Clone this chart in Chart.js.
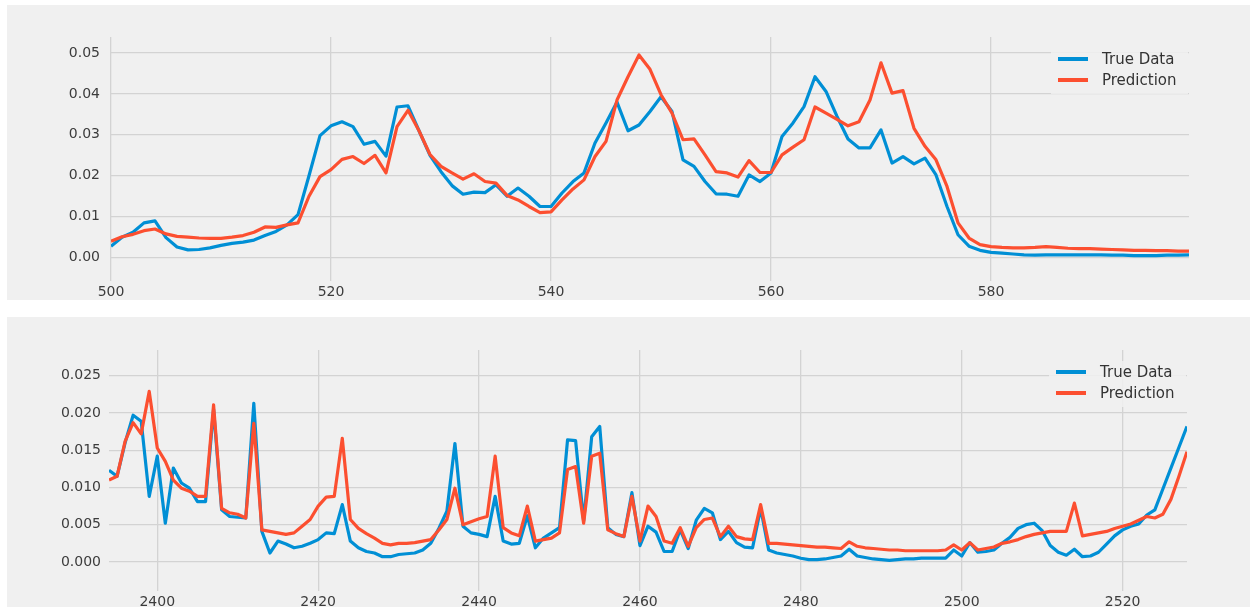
<!DOCTYPE html>
<html>
<head>
<meta charset="utf-8">
<script src="https://cdn.jsdelivr.net/npm/chart.js@4.4.2/dist/chart.umd.min.js"></script>
<style>
  body { margin: 0; background: #fff; width: 1250px; height: 607px; overflow: hidden; position: relative; }
  .panel { position: absolute; left: 7px; background: #f0f0f0; }
  canvas { display: block; }
</style>
</head>
<body>
<div class="panel" style="top:5px;width:1243px;height:295px"><canvas id="topChart" width="1243" height="295"></canvas></div>
<div class="panel" style="top:317px;width:1243px;height:290px"><canvas id="bottomChart" width="1243" height="290"></canvas></div>
<script>
const SERIES_NAMES = ['True Data', 'Prediction'];

// upper panel: steps 500..598
const topStart = 500;
const topTrue = [
  0.0028, 0.0050, 0.0062, 0.0085, 0.0090, 0.0049, 0.0026, 0.0019, 0.0020, 0.0024,
  0.0030, 0.0035, 0.0038, 0.0043, 0.0054, 0.0064, 0.0080, 0.0105, 0.0200, 0.0298,
  0.0322, 0.0332, 0.0320, 0.0277, 0.0284, 0.0248, 0.0368, 0.0371, 0.0310, 0.0250,
  0.0210, 0.0176, 0.0155, 0.0160, 0.0159, 0.0178, 0.0150, 0.0170, 0.0150, 0.0125,
  0.0125, 0.0158, 0.0186, 0.0207, 0.0280, 0.0329, 0.0380, 0.0310, 0.0324, 0.0357,
  0.0393, 0.0357, 0.0239, 0.0223, 0.0186, 0.0156, 0.0155, 0.0150, 0.0202, 0.0186,
  0.0207, 0.0296, 0.0329, 0.0369, 0.0442, 0.0406, 0.0345, 0.0290, 0.0268, 0.0268,
  0.0312, 0.0231, 0.0247, 0.0229, 0.0243, 0.0202, 0.0125, 0.0056, 0.0028, 0.0018,
  0.0013, 0.0011, 0.0009, 0.0007, 0.0006, 0.0007, 0.0007, 0.0007, 0.0007, 0.0007,
  0.0007, 0.0006, 0.0006, 0.0005, 0.0005, 0.0005, 0.0006, 0.0006, 0.0007
];
const topPred = [
  0.0040, 0.0051, 0.0057, 0.0066, 0.0070, 0.0058, 0.0052, 0.0050, 0.0048, 0.0047,
  0.0047, 0.0050, 0.0054, 0.0062, 0.0075, 0.0074, 0.0080, 0.0085, 0.0150, 0.0198,
  0.0215, 0.0240, 0.0247, 0.0230, 0.0250, 0.0207, 0.0320, 0.0360, 0.0310, 0.0252,
  0.0223, 0.0207, 0.0192, 0.0205, 0.0186, 0.0182, 0.0152, 0.0141, 0.0125, 0.0110,
  0.0112, 0.0141, 0.0168, 0.0190, 0.0247, 0.0284, 0.0385, 0.0442, 0.0495, 0.0460,
  0.0398, 0.0353, 0.0288, 0.0290, 0.0251, 0.0210, 0.0207, 0.0197, 0.0237, 0.0208,
  0.0208, 0.0251, 0.0270, 0.0288, 0.0368, 0.0353, 0.0338, 0.0322, 0.0332, 0.0385,
  0.0476, 0.0402, 0.0408, 0.0316, 0.0272, 0.0239, 0.0174, 0.0085, 0.0048, 0.0032,
  0.0027, 0.0025, 0.0024, 0.0024, 0.0025, 0.0027, 0.0025, 0.0023, 0.0022, 0.0022,
  0.0021, 0.0020, 0.0019, 0.0018, 0.0018, 0.0017, 0.0017, 0.0016, 0.0016
];
const topXTicks = [500, 520, 540, 560, 580];
const topYTicks = [0, 0.01, 0.02, 0.03, 0.04, 0.05];

// lower panel: steps 2394..2528
const bottomStart = 2394;
const bottomTrue = [
  0.0123, 0.0115, 0.0160, 0.0197, 0.0189, 0.0088, 0.0142, 0.0052, 0.0126, 0.0106,
  0.0099, 0.0081, 0.0081, 0.0205, 0.0070, 0.0061, 0.0060, 0.0059, 0.0213, 0.0041,
  0.0012, 0.0028, 0.0024, 0.0019, 0.0021, 0.0025, 0.0030, 0.0039, 0.0038, 0.0077,
  0.0028, 0.0019, 0.0014, 0.0012, 0.0007, 0.0007, 0.0010, 0.0011, 0.0012, 0.0016,
  0.0025, 0.0045, 0.0068, 0.0159, 0.0048, 0.0039, 0.0037, 0.0034, 0.0088, 0.0028,
  0.0024, 0.0025, 0.0062, 0.0019, 0.0032, 0.0039, 0.0046, 0.0164, 0.0163, 0.0055,
  0.0168, 0.0182, 0.0046, 0.0037, 0.0034, 0.0093, 0.0022, 0.0048, 0.0040, 0.0014,
  0.0014, 0.0043, 0.0018, 0.0056, 0.0072, 0.0066, 0.0030, 0.0041, 0.0026, 0.0020,
  0.0019, 0.0072, 0.0016, 0.0012, 0.0010, 0.0008, 0.0005, 0.0003, 0.0003, 0.0004,
  0.0006, 0.0008, 0.0017, 0.0008, 0.0006, 0.0004, 0.0003, 0.0002, 0.0003, 0.0004,
  0.0004, 0.0005, 0.0005, 0.0005, 0.0005, 0.0016, 0.0008, 0.0026, 0.0013, 0.0014,
  0.0016, 0.0025, 0.0033, 0.0045, 0.0050, 0.0052, 0.0042, 0.0022, 0.0013, 0.0009,
  0.0017, 0.0007, 0.0008, 0.0013, 0.0024, 0.0035, 0.0043, 0.0048, 0.0051, 0.0063,
  0.0070, 0.0098, 0.0126, 0.0154, 0.0182
];
const bottomPred = [
  0.0110, 0.0115, 0.0162, 0.0187, 0.0172, 0.0229, 0.0153, 0.0135, 0.0110, 0.0099,
  0.0095, 0.0088, 0.0088, 0.0211, 0.0072, 0.0066, 0.0064, 0.0059, 0.0186, 0.0043,
  0.0041, 0.0039, 0.0037, 0.0039, 0.0048, 0.0057, 0.0075, 0.0087, 0.0088, 0.0166,
  0.0057, 0.0045, 0.0038, 0.0032, 0.0025, 0.0023, 0.0025, 0.0025, 0.0026, 0.0028,
  0.0030, 0.0043, 0.0057, 0.0099, 0.0050, 0.0054, 0.0058, 0.0061, 0.0142, 0.0046,
  0.0039, 0.0035, 0.0075, 0.0028, 0.0030, 0.0032, 0.0039, 0.0124, 0.0128, 0.0052,
  0.0142, 0.0146, 0.0043, 0.0038, 0.0034, 0.0088, 0.0028, 0.0075, 0.0061, 0.0028,
  0.0025, 0.0046, 0.0021, 0.0046, 0.0057, 0.0059, 0.0034, 0.0048, 0.0034, 0.0031,
  0.0030, 0.0077, 0.0025, 0.0025, 0.0024, 0.0023, 0.0022, 0.0021, 0.0020, 0.0020,
  0.0019, 0.0018, 0.0027, 0.0021, 0.0019, 0.0018, 0.0017, 0.0016, 0.0016, 0.0015,
  0.0015, 0.0015, 0.0015, 0.0015, 0.0016, 0.0023, 0.0016, 0.0026, 0.0016, 0.0018,
  0.0020, 0.0025, 0.0027, 0.0030, 0.0034, 0.0037, 0.0039, 0.0041, 0.0041, 0.0041,
  0.0079, 0.0035, 0.0037, 0.0039, 0.0041, 0.0045, 0.0048, 0.0051, 0.0056, 0.0061,
  0.0059, 0.0064, 0.0084, 0.0115, 0.0148
];
const bottomXTicks = [2400, 2420, 2440, 2460, 2480, 2500, 2520];
const bottomYTicks = [0, 0.005, 0.01, 0.015, 0.02, 0.025];

const BLUE = '#008fd5';
const RED = '#fc4f30';
const GRID = '#d3d3d3';
const FONT = '"DejaVu Sans", "Liberation Sans", sans-serif';

// legend drawn inside the plot area, top right, like matplotlib's loc='best'
const cornerLegend = {
  id: 'cornerLegend',
  afterDatasetsDraw(chart) {
    const { ctx, chartArea: a } = chart;
    ctx.save();
    ctx.fillStyle = 'rgba(240,240,240,0.85)';
    ctx.fillRect(a.right - 138, a.top + 11, 137, 46);
    ctx.font = '15px ' + FONT;
    ctx.textBaseline = 'middle';
    chart.data.datasets.forEach((ds, i) => {
      const y = a.top + 22 + i * 21;
      ctx.strokeStyle = ds.borderColor;
      ctx.lineWidth = 4;
      ctx.beginPath();
      ctx.moveTo(a.right - 131, y);
      ctx.lineTo(a.right - 101, y);
      ctx.stroke();
      ctx.fillStyle = '#333';
      ctx.fillText(ds.label, a.right - 87, y + 1);
    });
    ctx.restore();
  }
};

function points(start, values) {
  return values.map((v, i) => ({ x: start + i, y: v }));
}

function makeChart(id, cfg) {
  const lastX = cfg.start + cfg.trueVals.length - 1;
  return new Chart(document.getElementById(id), {
    type: 'line',
    data: {
      datasets: [
        { label: SERIES_NAMES[0], data: points(cfg.start, cfg.trueVals), borderColor: BLUE, order: 2 },
        { label: SERIES_NAMES[1], data: points(cfg.start, cfg.predVals), borderColor: RED, order: 1 }
      ]
    },
    options: {
      responsive: false,
      animation: false,
      devicePixelRatio: 1,
      layout: { padding: { left: 0, top: cfg.top, right: cfg.right, bottom: 0 } },
      elements: {
        point: { radius: 0 },
        line: { borderWidth: 3.2, tension: 0, borderJoinStyle: 'round', fill: false }
      },
      plugins: { legend: { display: false }, tooltip: { enabled: false } },
      scales: {
        x: {
          type: 'linear',
          min: cfg.start,
          max: lastX,
          border: { display: false },
          grid: { color: GRID, lineWidth: 1.3, drawTicks: false },
          ticks: {
            color: '#3c3c3c', font: { family: FONT, size: 14 }, padding: 3, maxRotation: 0,
            callback: v => String(v)
          },
          afterBuildTicks: s => { s.ticks = cfg.xTicks.map(v => ({ value: v })); },
          afterFit: s => { s.height = cfg.xHeight; }
        },
        y: {
          min: cfg.yMin,
          max: cfg.yMax,
          border: { display: false },
          grid: { color: GRID, lineWidth: 1.3, drawTicks: false },
          ticks: {
            color: '#3c3c3c', font: { family: FONT, size: 14 }, padding: cfg.yPad,
            callback: v => v.toFixed(cfg.decimals)
          },
          afterBuildTicks: s => { s.ticks = cfg.yTicks.map(v => ({ value: v })); },
          afterFit: s => { s.width = cfg.yWidth; }
        }
      }
    },
    plugins: [cornerLegend]
  });
}

makeChart('topChart', {
  start: topStart, trueVals: topTrue, predVals: topPred,
  xTicks: topXTicks, yTicks: topYTicks, decimals: 2,
  yMin: -0.0056, yMax: 0.0539,
  top: 32, right: 61, yWidth: 104, xHeight: 19, yPad: 11
});

makeChart('bottomChart', {
  start: bottomStart, trueVals: bottomTrue, predVals: bottomPred,
  xTicks: bottomXTicks, yTicks: bottomYTicks, decimals: 3,
  yMin: -0.00385, yMax: 0.02846,
  top: 33, right: 63, yWidth: 102, xHeight: 16, yPad: 8
});
</script>
</body>
</html>
